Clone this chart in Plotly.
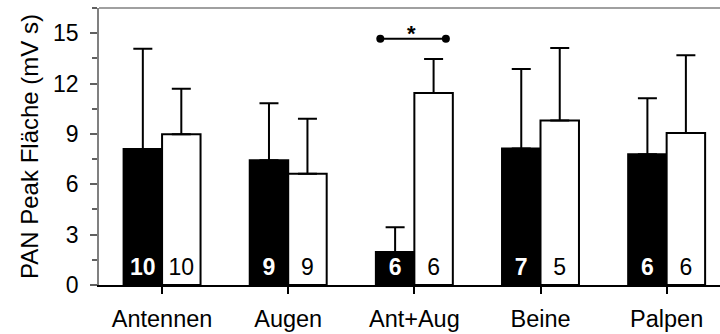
import numpy as np
import plotly.graph_objects as go

categories = ["Antennen", "Augen", "Ant+Aug", "Beine", "Palpen"]
black_vals = [8.1, 7.43, 1.97, 8.13, 7.79]
black_err = [5.98, 3.40, 1.47, 4.73, 3.34]
white_vals = [8.98, 6.62, 11.43, 9.80, 9.06]
white_err = [2.71, 3.28, 2.03, 4.31, 4.63]
black_n = ["10", "9", "6", "7", "6"]
white_n = ["10", "9", "6", "5", "6"]
sig_level = 14.67
y_ticks = [0, 3, 6, 9, 12, 15]

FONT = "Liberation Sans, Arial, sans-serif"
bw = 0.305
xs = np.arange(len(categories))

fig = go.Figure()
fig.add_trace(go.Bar(
    x=xs, y=black_vals, width=bw, offset=-bw,
    marker=dict(color="black", line=dict(color="black", width=2)),
    error_y=dict(type="data", array=black_err, arrayminus=[0]*5, symmetric=False,
                 color="black", thickness=2, width=9.5),
    showlegend=False, hoverinfo="skip"))
fig.add_trace(go.Bar(
    x=xs, y=white_vals, width=bw, offset=0,
    marker=dict(color="white", line=dict(color="black", width=2)),
    error_y=dict(type="data", array=white_err, arrayminus=[0]*5, symmetric=False,
                 color="black", thickness=2, width=9.5),
    showlegend=False, hoverinfo="skip"))

# n labels
fig.add_trace(go.Scatter(
    x=xs - bw/2, y=[0.95]*5, mode="text", text=black_n,
    textfont=dict(family=FONT, size=23, color="white", weight="bold"),
    textposition="middle center", showlegend=False, hoverinfo="skip"))
fig.add_trace(go.Scatter(
    x=xs + bw/2, y=[0.95]*5, mode="text", text=white_n,
    textfont=dict(family=FONT, size=23, color="black"),
    textposition="middle center", showlegend=False, hoverinfo="skip"))

# significance bracket over Ant+Aug
fig.add_trace(go.Scatter(
    x=[2 - 0.27, 2 + 0.25], y=[sig_level, sig_level], mode="lines+markers",
    line=dict(color="black", width=2), marker=dict(color="black", size=8),
    showlegend=False, hoverinfo="skip"))
fig.add_annotation(x=2 - 0.02, y=sig_level, text="<b>*</b>", showarrow=False,
                   yanchor="bottom", yshift=-9, font=dict(family=FONT, size=22, color="black"))

# top border line
fig.add_shape(type="line", xref="paper", yref="paper", x0=0, x1=1, y0=1, y1=1,
              line=dict(color="#808080", width=1.5))

fig.update_layout(
    width=720, height=334,
    margin=dict(l=99, r=0, t=8, b=49),
    paper_bgcolor="white", plot_bgcolor="white",
    barmode="overlay",
    font=dict(family=FONT, size=23, color="black"),
    xaxis=dict(range=[-0.5, 4.423], tickmode="array", tickvals=list(xs), ticktext=categories,
               showline=True, linecolor="black", linewidth=2,
               ticks="outside", ticklen=7, tickwidth=1.5, tickcolor="black",
               showgrid=False, zeroline=False, tickfont=dict(size=23.5),
               ticklabelstandoff=5),
    yaxis=dict(range=[0, 16.5], tickmode="array", tickvals=y_ticks,
               showline=True, linecolor="#808080", linewidth=1.5,
               ticks="outside", ticklen=7, tickwidth=1.5, tickcolor="#606060",
               minor=dict(dtick=1.5, tick0=0, ticks="outside", ticklen=5,
                          tickwidth=1.5, tickcolor="#606060"),
               showgrid=False, zeroline=False, tickfont=dict(size=23),
               ticklabelstandoff=7,
               title=dict(text="PAN Peak Fläche (mV s)", font=dict(size=24), standoff=8)),
)

fig.write_html("out.html", config={"displayModeBar": False},
               post_script="document.body.style.margin='0';document.body.style.overflow='hidden';")
